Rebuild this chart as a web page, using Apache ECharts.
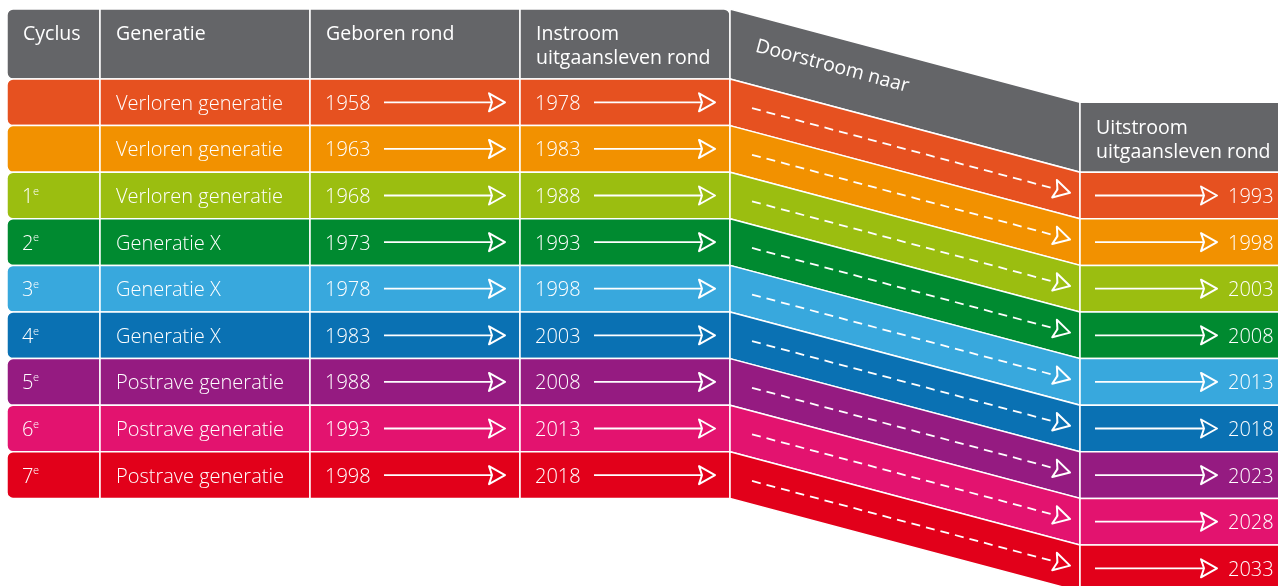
<!DOCTYPE html>
<html>
<head>
<meta charset="utf-8">
<script src="https://cdn.jsdelivr.net/npm/echarts@6/dist/echarts.min.js"></script>
<style>
  html, body { margin: 0; padding: 0; background: #fff; }
  #chart { width: 1278px; height: 586px; }
</style>
</head>
<body>
<div id="chart"></div>
<script>
// data
var cycles = ['', '', '1', '2', '3', '4', '5', '6', '7'];
var generations = [
  'Verloren generatie', 'Verloren generatie', 'Verloren generatie',
  'Generatie X', 'Generatie X', 'Generatie X',
  'Postrave generatie', 'Postrave generatie', 'Postrave generatie'
];
var bornYears = [1958, 1963, 1968, 1973, 1978, 1983, 1988, 1993, 1998];
var inflowYears = [1978, 1983, 1988, 1993, 1998, 2003, 2008, 2013, 2018];
var outflowYears = [1993, 1998, 2003, 2008, 2013, 2018, 2023, 2028, 2033];
var headerLabels = ['Cyclus', 'Generatie', 'Geboren rond', 'Instroom\nuitgaansleven rond'];
var flowLabel = 'Doorstroom naar';
var outflowLabel = 'Uitstroom\nuitgaansleven rond';
var rowColors = ['#E65120', '#F29100', '#9BBE10', '#008A30', '#38A8DD', '#0A71B3', '#951B81', '#E3136F', '#E2001A'];
var headerColor = '#646568';

// layout (pixels on x, row units on y)
var COLS = [7, 100, 310, 520, 730];
var RIGHT = [1080, 1290];
var TOP = 79, ROW_H = 46.6, SHIFT = 2;
var HEAD_TOP = (9 - TOP) / ROW_H;
var FONT = '"Open Sans", Lato, sans-serif';
var FS = 20;
var HFS = 19.5;
var DY = 1.8 / ROW_H; // small downward nudge for text

function rowOf(px) { return (px - TOP) / ROW_H; }

var chart = echarts.init(document.getElementById('chart'));

function txt(p, s, opt) {
  opt = opt || {};
  return {
    type: 'text',
    x: p[0], y: p[1],
    rotation: opt.rotation || 0,
    style: {
      text: s, x: 0, y: 0,
      fill: '#fff',
      font: (opt.weight || 300) + ' ' + (opt.size || FS) + 'px ' + FONT,
      align: opt.align || 'left',
      verticalAlign: 'middle',
      lineHeight: opt.lineHeight || 24
    },
    z2: 10
  };
}

function arrow(a, b, dashed) {
  var ang = Math.atan2(b[1] - a[1], b[0] - a[0]);
  var c = Math.cos(ang), s = Math.sin(ang);
  function loc(u, v) { return [b[0] + u * c - v * s, b[1] + u * s + v * c]; }
  var notch = loc(-13, 0);
  return [{
    type: 'line',
    shape: { x1: a[0], y1: a[1], x2: notch[0], y2: notch[1] },
    style: { stroke: '#fff', lineWidth: 1.8, lineDash: dashed ? [9, 6] : null },
    z2: 10
  }, {
    type: 'polygon',
    shape: { points: [loc(-16, -9), loc(0, 0), loc(-16, 9), notch] },
    style: { fill: 'none', stroke: '#fff', lineWidth: 2, lineJoin: 'round' },
    z2: 10
  }];
}

function renderHeader(params, api) {
  var ch = [];
  for (var c = 0; c < 4; c++) {
    var p0 = api.coord([COLS[c], HEAD_TOP]);
    var p1 = api.coord([COLS[c + 1], 0]);
    var r = c === 0 ? [6, 0, 0, 6] : (c === 3 ? [0, 6, 0, 0] : 0);
    ch.push({
      type: 'rect',
      shape: { x: p0[0], y: p0[1], width: p1[0] - p0[0], height: p1[1] - p0[1], r: r },
      style: { fill: headerColor, stroke: '#fff', lineWidth: 1.5 }
    });
    var lines = headerLabels[c].split('\n').length;
    ch.push(txt(api.coord([COLS[c] + 16, rowOf(lines > 1 ? 45 : 33) + DY]), headerLabels[c], { weight: 400, size: HFS }));
  }
  ch.push({
    type: 'polygon',
    shape: { points: [
      api.coord([COLS[4], HEAD_TOP]), api.coord([RIGHT[0], HEAD_TOP + SHIFT]),
      api.coord([RIGHT[0], SHIFT]), api.coord([COLS[4], 0])
    ] },
    style: { fill: headerColor, stroke: '#fff', lineWidth: 1.5 }
  });
  var ang = Math.atan2(api.coord([RIGHT[0], SHIFT])[1] - api.coord([COLS[4], 0])[1], RIGHT[0] - COLS[4]);
  ch.push(txt(api.coord([756, rowOf(46)]), flowLabel, { rotation: -ang, weight: 400, size: HFS }));
  var q0 = api.coord([RIGHT[0], HEAD_TOP + SHIFT]);
  var q1 = api.coord([RIGHT[1], SHIFT]);
  ch.push({
    type: 'rect',
    shape: { x: q0[0], y: q0[1], width: q1[0] - q0[0], height: q1[1] - q0[1] },
    style: { fill: headerColor, stroke: '#fff', lineWidth: 1.5 }
  });
  ch.push(txt(api.coord([RIGHT[0] + 16, rowOf(45) + SHIFT + DY]), outflowLabel, { weight: 400, size: HFS }));
  return { type: 'group', children: ch };
}

function renderRow(params, api) {
  var i = api.value(0);
  var col = rowColors[i];
  var mid = i + 0.5;
  var tm = mid + DY;
  var ch = [];
  for (var c = 0; c < 4; c++) {
    var p0 = api.coord([COLS[c], i]);
    var p1 = api.coord([COLS[c + 1], i + 1]);
    ch.push({
      type: 'rect',
      shape: { x: p0[0], y: p0[1], width: p1[0] - p0[0], height: p1[1] - p0[1], r: c === 0 ? [6, 0, 0, 6] : 0 },
      style: { fill: col, stroke: '#fff', lineWidth: 1.5 }
    });
  }
  // skewed band
  ch.push({
    type: 'polygon',
    shape: { points: [
      api.coord([COLS[4], i]), api.coord([RIGHT[0], i + SHIFT]),
      api.coord([RIGHT[0], i + 1 + SHIFT]), api.coord([COLS[4], i + 1])
    ] },
    style: { fill: col, stroke: '#fff', lineWidth: 1.5 }
  });
  var r0 = api.coord([RIGHT[0], i + SHIFT]);
  var r1 = api.coord([RIGHT[1], i + 1 + SHIFT]);
  ch.push({
    type: 'rect',
    shape: { x: r0[0], y: r0[1], width: r1[0] - r0[0], height: r1[1] - r0[1] },
    style: { fill: col, stroke: '#fff', lineWidth: 1.5 }
  });

  if (cycles[i]) {
    ch.push(txt(api.coord([22, tm]), cycles[i]));
    ch.push(txt(api.coord([33, tm - 0.12]), 'e', { size: 11 }));
  }
  ch.push(txt(api.coord([116, tm]), generations[i]));
  ch.push(txt(api.coord([325, tm]), String(bornYears[i])));
  ch = ch.concat(arrow(api.coord([384, mid]), api.coord([505, mid]), false));
  ch.push(txt(api.coord([535, tm]), String(inflowYears[i])));
  ch = ch.concat(arrow(api.coord([594, mid]), api.coord([715, mid]), false));
  var slope = SHIFT / (RIGHT[0] - COLS[4]);
  ch = ch.concat(arrow(
    api.coord([752, mid + (752 - COLS[4]) * slope]),
    api.coord([1070, mid + (1070 - COLS[4]) * slope]), true));
  ch = ch.concat(arrow(api.coord([1095, mid + SHIFT]), api.coord([1217, mid + SHIFT]), false));
  ch.push(txt(api.coord([1228, tm + SHIFT]), String(outflowYears[i])));
  return { type: 'group', children: ch };
}

chart.setOption({
  animation: false,
  grid: { left: 0, right: 0, top: 0, bottom: 0 },
  xAxis: { type: 'value', min: 0, max: 1278, show: false },
  yAxis: { type: 'value', min: rowOf(0), max: rowOf(586), inverse: true, show: false },
  series: [
    { type: 'custom', renderItem: renderHeader, data: [[0]], silent: true, clip: false },
    { type: 'custom', renderItem: renderRow, data: bornYears.map(function (v, i) { return [i]; }), silent: true, clip: false }
  ]
});
</script>
</body>
</html>
